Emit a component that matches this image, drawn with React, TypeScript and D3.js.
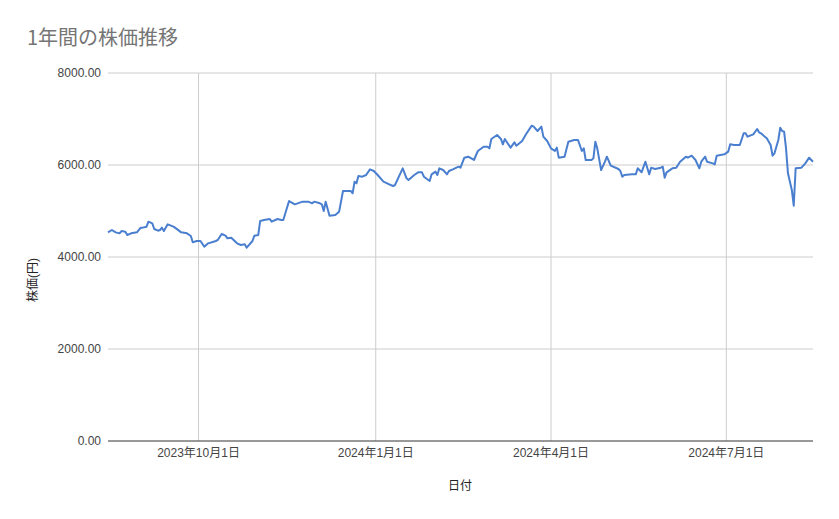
import React from "react";
import * as d3 from "d3";

const dates: string[] = [
  "2023-08-15","2023-08-17","2023-08-19","2023-08-21","2023-08-22","2023-08-24","2023-08-25","2023-08-27","2023-08-30",
  "2023-09-01","2023-09-02","2023-09-04","2023-09-05","2023-09-07","2023-09-08","2023-09-10","2023-09-11","2023-09-12","2023-09-13","2023-09-15","2023-09-18","2023-09-20","2023-09-22","2023-09-25","2023-09-27","2023-09-28","2023-09-30",
  "2023-10-02","2023-10-04","2023-10-06","2023-10-10","2023-10-11","2023-10-13","2023-10-15","2023-10-16","2023-10-18","2023-10-21","2023-10-23","2023-10-25","2023-10-26","2023-10-29","2023-10-30",
  "2023-11-01","2023-11-02","2023-11-04","2023-11-07","2023-11-08","2023-11-11","2023-11-13","2023-11-14","2023-11-17","2023-11-20","2023-11-24","2023-11-27","2023-11-29","2023-11-30",
  "2023-12-03","2023-12-04","2023-12-05","2023-12-06","2023-12-08","2023-12-11","2023-12-13","2023-12-15","2023-12-19","2023-12-20","2023-12-21","2023-12-22","2023-12-23","2023-12-25","2023-12-27","2023-12-29","2023-12-31",
  "2024-01-02","2024-01-05","2024-01-08","2024-01-10","2024-01-11","2024-01-13","2024-01-15","2024-01-17","2024-01-18","2024-01-21","2024-01-23","2024-01-25","2024-01-26","2024-01-29","2024-01-30",
  "2024-02-01","2024-02-02","2024-02-03","2024-02-05","2024-02-07","2024-02-08","2024-02-10","2024-02-13","2024-02-14","2024-02-16","2024-02-18","2024-02-21","2024-02-23","2024-02-26","2024-02-28","2024-02-29",
  "2024-03-01","2024-03-04","2024-03-06","2024-03-07","2024-03-08","2024-03-11","2024-03-13","2024-03-14","2024-03-17","2024-03-19","2024-03-22","2024-03-23","2024-03-25","2024-03-27","2024-03-28","2024-03-30",
  "2024-04-01","2024-04-03","2024-04-04","2024-04-05","2024-04-08","2024-04-10","2024-04-13","2024-04-15","2024-04-17","2024-04-18","2024-04-19","2024-04-22","2024-04-23","2024-04-24","2024-04-25","2024-04-27","2024-04-29","2024-04-30",
  "2024-05-02","2024-05-06","2024-05-07","2024-05-08","2024-05-09","2024-05-13","2024-05-15","2024-05-16","2024-05-18","2024-05-20","2024-05-22","2024-05-23","2024-05-25","2024-05-28","2024-05-29","2024-05-30","2024-05-31",
  "2024-06-03","2024-06-05","2024-06-07","2024-06-10","2024-06-11","2024-06-13","2024-06-15","2024-06-17","2024-06-18","2024-06-20","2024-06-21","2024-06-24","2024-06-25","2024-06-26","2024-06-28","2024-06-30",
  "2024-07-02","2024-07-03","2024-07-05","2024-07-08","2024-07-10","2024-07-11","2024-07-12","2024-07-15","2024-07-17","2024-07-18","2024-07-19","2024-07-21","2024-07-22","2024-07-24","2024-07-25","2024-07-26","2024-07-28","2024-07-29","2024-07-30","2024-07-31",
  "2024-08-01","2024-08-02","2024-08-04","2024-08-05","2024-08-06","2024-08-09","2024-08-11","2024-08-13","2024-08-15"
];

const prices: number[] = [
  4536,4587,4536,4514,4565,4550,4478,4514,4536,
  4638,4638,4659,4768,4732,4609,4572,4587,4638,4565,4710,4659,4601,4536,4514,4457,4319,4348,
  4348,4225,4297,4348,4370,4500,4464,4406,4420,4297,4261,4275,4203,4348,4464,
  4478,4783,4804,4826,4768,4826,4804,4804,5217,5145,5203,5203,5167,5203,
  5167,5145,5000,5203,4899,4913,4986,5435,5435,5384,5638,5601,5761,5746,5783,5906,5870,
  5783,5638,5580,5543,5565,5746,5928,5710,5674,5783,5841,5841,5746,5652,5797,
  5855,5783,5928,5891,5797,5870,5906,5964,5942,6159,6181,6109,6304,6398,6398,6362,
  6565,6652,6565,6449,6565,6377,6493,6420,6522,6667,6855,6833,6739,6833,6616,6522,
  6362,6304,6377,6159,6181,6507,6543,6543,6304,6362,6109,6109,6145,6507,6362,5891,6072,6181,
  5986,5913,5870,5746,5783,5797,5797,5928,5841,6072,5797,5942,5913,5942,5964,5725,5841,
  5928,5942,6072,6181,6159,6203,6109,5928,6072,6181,6072,6036,6014,6203,6217,6232,
  6290,6449,6435,6435,6688,6688,6616,6667,6783,6710,6688,6616,6580,6435,6203,6254,6543,6812,6739,6725,
  6362,5819,5457,5116,5928,5942,6036,6159,6072
];

const yTicks: number[] = [0, 2000, 4000, 6000, 8000];
const xTickDates: string[] = ["2023-10-01", "2024-01-01", "2024-04-01", "2024-07-01"];
const xTickLabels: string[] = ["2023年10月1日", "2024年1月1日", "2024年4月1日", "2024年7月1日"];

const title = "1年間の株価推移";
const yTitle = "株価(円)";
const xTitle = "日付";

const W = 839;
const H = 519;
const margin = { left: 108, right: 26, top: 73, bottom: 78 };
const FONT = "Arial, 'Liberation Sans', 'Noto Sans CJK JP', sans-serif";

export default function App() {
  const parse = d3.timeParse("%Y-%m-%d");
  const data = dates.map((d, i) => ({ date: parse(d) as Date, value: prices[i] }));
  const x = d3
    .scaleTime()
    .domain(d3.extent(data, (d) => d.date) as [Date, Date])
    .range([margin.left, W - margin.right]);
  const y = d3.scaleLinear().domain([0, 8000]).range([H - margin.bottom, margin.top]);
  const line = d3
    .line<{ date: Date; value: number }>()
    .x((d) => x(d.date))
    .y((d) => y(d.value));
  const fmt = d3.format(".2f");
  const x0 = margin.left;
  const x1 = W - margin.right;
  const y0 = H - margin.bottom;

  return (
    <svg
      width={W}
      height={H}
      style={{ position: "absolute", left: 0, top: 0, background: "#fff" }}
      fontFamily={FONT}
    >
      <rect x={0} y={0} width={W} height={H} fill="#fff" />
      <text x={27} y={45} fontSize={20} fill="#757575" fontFamily="'Noto Sans CJK JP', sans-serif">
        {title}
      </text>
      {yTicks.map((t) => (
        <g key={t}>
          {t !== 0 && (
            <line x1={x0} x2={x1} y1={y(t)} y2={y(t)} stroke="#cccccc" strokeWidth={1} />
          )}
          <text x={101} y={y(t)} dy="0.35em" textAnchor="end" fontSize={12} fill="#444">
            {fmt(t)}
          </text>
        </g>
      ))}
      {xTickDates.map((d, i) => {
        const xx = x(parse(d) as Date);
        return (
          <g key={d}>
            <line x1={xx} x2={xx} y1={margin.top} y2={y0} stroke="#cccccc" strokeWidth={1} />
            <text x={xx} y={457} textAnchor="middle" fontSize={12} fill="#444">
              {xTickLabels[i]}
            </text>
          </g>
        );
      })}
      <line x1={x0} x2={x1} y1={y0} y2={y0} stroke="#333" strokeWidth={1} />
      <path d={line(data) || ""} fill="none" stroke="#4a7fcf" strokeWidth={2} strokeLinejoin="round" />
      <text
        transform={`translate(37, 280) rotate(-90)`}
        textAnchor="middle"
        fontSize={12}
        fill="#222"
      >
        {yTitle}
      </text>
      <text x={460} y={490} textAnchor="middle" fontSize={12} fill="#222">
        {xTitle}
      </text>
    </svg>
  );
}
